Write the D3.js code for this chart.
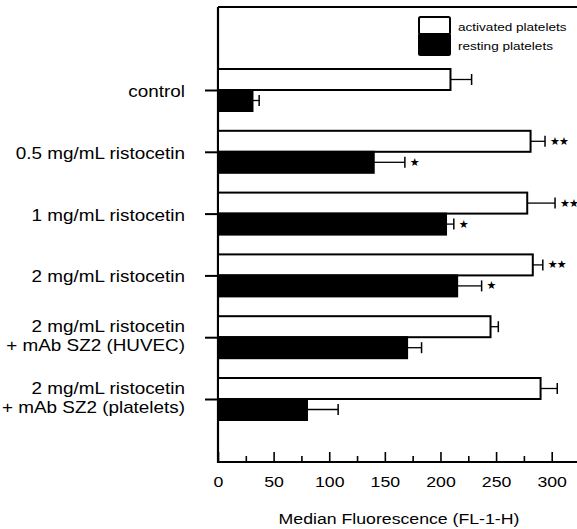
<!DOCTYPE html>
<html>
<head>
<meta charset="utf-8">
<script src="https://cdn.jsdelivr.net/npm/d3@7"></script>
<style>
  body { margin: 0; background: #fff; }
  svg { display: block; font-family: "Liberation Sans", Arial, sans-serif; }
</style>
</head>
<body>
<svg width="577" height="529"></svg>
<script>
// data
const categories = ['control', '0.5', '1', '2', '2+HUVEC', '2+platelets'];
const catLabels = [
    ['control'],
    ['0.5 mg/mL ristocetin'],
    ['1 mg/mL ristocetin'],
    ['2 mg/mL ristocetin'],
    ['2 mg/mL ristocetin', '+ mAb SZ2 (HUVEC)'],
    ['2 mg/mL ristocetin', '+ mAb SZ2 (platelets)']
];
const activated = [209, 281, 278, 283, 245, 290];
const activatedErr = [19, 13, 25, 9, 7, 15];
const resting = [31, 140, 205, 215, 170, 80];
const restingErr = [6, 28, 7, 22, 13, 28];
const activatedSig = ['', '★★', '★★', '★★', '', ''];
const restingSig = ['', '★', '★', '★', '', ''];
const series = ['activated platelets', 'resting platelets'];
const xTicks = [0, 50, 100, 150, 200, 250, 300];
const xMinor = [25, 75, 125, 175, 225, 275];
const xTitle = 'Median Fluorescence (FL-1-H)';

const W = 577, H = 529;
const mLeft = 218, mTop = 7, mBottom = 462;
const sx = 1.18; // the original text is a bit stretched sideways

const svg = d3.select('svg');

const x = d3.scaleLinear().domain([0, 300]).range([mLeft, 551.7]);
const y = d3.scalePoint().domain(categories).range([90, 399]);
const sub = d3.scaleBand().domain(series).range([-21, 21]);

const rows = categories.map((c, i) => ({
    cat: c, lines: catLabels[i],
    vals: [
        {s: series[0], v: activated[i], e: activatedErr[i], sig: activatedSig[i]},
        {s: series[1], v: resting[i], e: restingErr[i], sig: restingSig[i]}
    ]
}));

// frame
svg.append('line').attr('x1', mLeft).attr('x2', W).attr('y1', mTop).attr('y2', mTop)
    .attr('stroke', '#000').attr('stroke-width', 2);
svg.append('line').attr('x1', mLeft).attr('x2', mLeft).attr('y1', mTop).attr('y2', mBottom + 1)
    .attr('stroke', '#000').attr('stroke-width', 2.2);
svg.append('line').attr('x1', mLeft - 1).attr('x2', W).attr('y1', mBottom).attr('y2', mBottom)
    .attr('stroke', '#000').attr('stroke-width', 2.2);

// bottom axis, ticks point inward
const xAxis = svg.append('g')
    .attr('transform', `translate(0, ${mBottom})`)
    .call(d3.axisBottom(x).tickValues(xTicks).tickSizeInner(-10).tickSizeOuter(0).tickPadding(14.5));
xAxis.select('.domain').remove();
xAxis.selectAll('line').attr('stroke-width', 1.6);
xAxis.selectAll('text')
    .attr('font-size', 15).attr('fill', '#000')
    .attr('font-family', '"Liberation Sans", Arial, sans-serif')
    .attr('transform', `scale(${sx},1)`);

const xAxisMinor = svg.append('g')
    .attr('transform', `translate(0, ${mBottom})`)
    .call(d3.axisBottom(x).tickValues(xMinor).tickSizeInner(-6).tickSizeOuter(0).tickFormat(''));
xAxisMinor.select('.domain').remove();
xAxisMinor.selectAll('line').attr('stroke-width', 1.6);

svg.append('text')
    .attr('transform', `translate(399, 524) scale(${sx},1)`)
    .attr('text-anchor', 'middle')
    .attr('font-size', 15)
    .text(xTitle);

// left axis ticks
const yAxis = svg.append('g')
    .attr('transform', `translate(${mLeft}, 0)`)
    .call(d3.axisLeft(y).tickSizeInner(13).tickSizeOuter(0).tickFormat(''));
yAxis.select('.domain').remove();
yAxis.selectAll('line').attr('stroke-width', 2);

// category labels
rows.forEach(r => {
    const cy = y(r.cat);
    const base = r.lines.length === 1 ? [cy + 7] : [cy - 5, cy + 13.5];
    r.lines.forEach((ln, j) => {
        svg.append('text')
            .attr('transform', `translate(185, ${base[j]}) scale(${sx},1)`)
            .attr('text-anchor', 'end')
            .attr('font-size', 16)
            .text(ln);
    });
});

// bars
const groups = svg.selectAll('.grp')
    .data(rows)
    .enter()
    .append('g')
    .attr('class', 'grp')
    .attr('transform', d => `translate(0, ${y(d.cat)})`);

const bar = groups.selectAll('.bar')
    .data(d => d.vals)
    .enter()
    .append('g')
    .attr('class', 'bar');

// error bars (right side only)
bar.append('line')
    .attr('x1', d => x(d.v)).attr('x2', d => x(d.v + d.e))
    .attr('y1', d => sub(d.s) + sub.bandwidth() / 2)
    .attr('y2', d => sub(d.s) + sub.bandwidth() / 2)
    .attr('stroke', '#000').attr('stroke-width', 1.3);
bar.append('line')
    .attr('x1', d => x(d.v + d.e)).attr('x2', d => x(d.v + d.e))
    .attr('y1', d => sub(d.s) + sub.bandwidth() / 2 - 5.5)
    .attr('y2', d => sub(d.s) + sub.bandwidth() / 2 + 5.5)
    .attr('stroke', '#000').attr('stroke-width', 1.5);

bar.append('rect')
    .attr('x', x(0))
    .attr('y', d => sub(d.s))
    .attr('width', d => x(d.v) - x(0))
    .attr('height', sub.bandwidth())
    .attr('fill', d => d.s === series[0] ? '#fff' : '#000')
    .attr('stroke', '#000')
    .attr('stroke-width', 2);

bar.append('text')
    .attr('x', d => x(d.v + d.e) + 5)
    .attr('y', d => sub(d.s) + sub.bandwidth() / 2)
    .attr('dominant-baseline', 'central')
    .attr('font-family', '"DejaVu Sans", sans-serif')
    .attr('font-size', 11)
    .attr('letter-spacing', -1)
    .text(d => d.sig);

// legend
const legend = svg.append('g').attr('transform', 'translate(419, 16)');
legend.selectAll('rect')
    .data(series)
    .enter()
    .append('rect')
    .attr('x', 0)
    .attr('y', (d, i) => i === 0 ? 1 : 18)
    .attr('width', 31)
    .attr('height', (d, i) => i === 0 ? 17 : 21)
    .attr('rx', 1.5)
    .attr('fill', (d, i) => i === 0 ? '#fff' : '#000')
    .attr('stroke', '#000')
    .attr('stroke-width', 2);
legend.selectAll('text')
    .data(series)
    .enter()
    .append('text')
    .attr('transform', (d, i) => `translate(39, ${i === 0 ? 14.5 : 33.5}) scale(${sx},1)`)
    .attr('font-size', 11.5)
    .text(d => d);
</script>
</body>
</html>
